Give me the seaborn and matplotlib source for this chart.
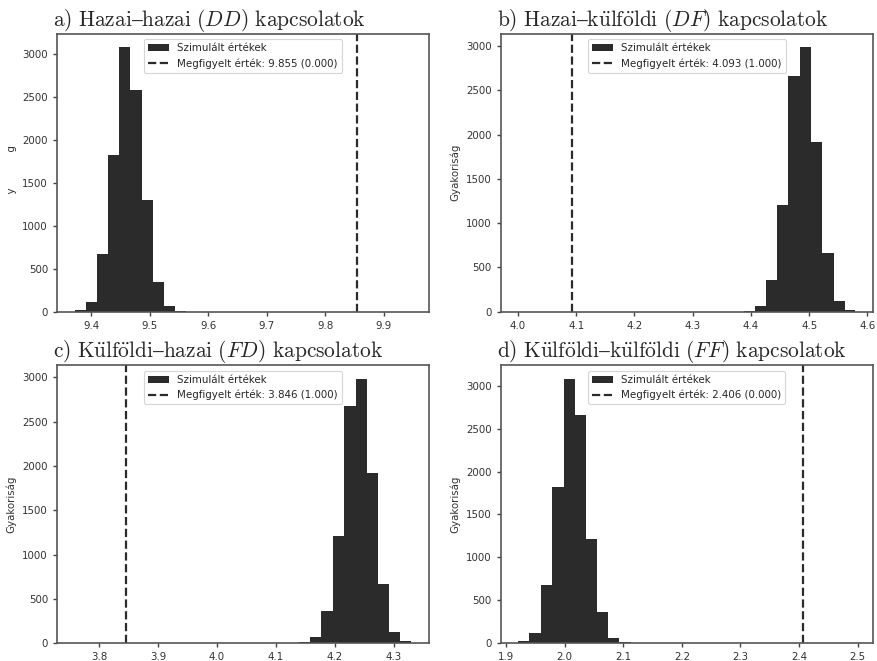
import numpy as np
import pandas as pd
import matplotlib
matplotlib.use("Agg")
import matplotlib.pyplot as plt
import seaborn as sns

# ---------------- data ----------------
titles = [
    r"$\mathrm{a)\ Hazai–hazai\ (}DD\mathrm{)\ kapcsolatok}$",
    r"$\mathrm{b)\ Hazai–k\ddot{u}lf\ddot{o}ldi\ (}DF\mathrm{)\ kapcsolatok}$",
    r"$\mathrm{c)\ K\ddot{u}lf\ddot{o}ldi–hazai\ (}FD\mathrm{)\ kapcsolatok}$",
    r"$\mathrm{d)\ K\ddot{u}lf\ddot{o}ldi–k\ddot{u}lf\ddot{o}ldi\ (}FF\mathrm{)\ kapcsolatok}$",
]
ylabels = ["  y" + " " * 11 + "g", "Gyakoriság", "Gyakoriság", "Gyakoriság"]

edges_dd = [9.3721, 9.3909, 9.4097, 9.4291, 9.4479, 9.4672, 9.4866, 9.5065, 9.5253, 9.5441, 9.5629]
counts_dd = [20, 113, 675, 1825, 3081, 2587, 1295, 347, 66, 8]
obs_dd, p_dd = 9.855, 0.000
xlim_dd = (9.342, 9.977)

edges_df = [4.3874, 4.4063, 4.4257, 4.4446, 4.4640, 4.4834, 4.5029, 4.5223, 4.5417, 4.5606, 4.5794]
counts_df = [8, 68, 358, 1208, 2668, 2989, 1921, 664, 121, 20]
obs_df, p_df = 4.093, 1.000
xlim_df = (3.971, 4.609)

edges_fd = [4.1396, 4.1583, 4.1770, 4.1968, 4.2155, 4.2354, 4.2546, 4.2739, 4.2926, 4.3113, 4.3300]
counts_fd = [8, 68, 362, 1208, 2672, 2985, 1925, 664, 121, 19]
obs_fd, p_fd = 3.846, 1.000
xlim_fd = (3.7286, 4.3595)

edges_ff = [1.9210, 1.9398, 1.9597, 1.9791, 1.9984, 2.0177, 2.0365, 2.0553, 2.0741, 2.0934, 2.1127]
counts_ff = [20, 113, 674, 1823, 3082, 2661, 1212, 359, 55, 8]
obs_ff, p_ff = 2.406, 0.000
xlim_ff = (1.8915, 2.5256)

panels = [
    (edges_dd, counts_dd, obs_dd, p_dd, xlim_dd),
    (edges_df, counts_df, obs_df, p_df, xlim_df),
    (edges_fd, counts_fd, obs_fd, p_fd, xlim_fd),
    (edges_ff, counts_ff, obs_ff, p_ff, xlim_ff),
]

# ---------------- style ----------------
sns.set_style("ticks")
plt.rcParams["font.family"] = ["DejaVu Sans"]
plt.rcParams["mathtext.fontset"] = "cm"
plt.rcParams["axes.edgecolor"] = "#555555"
plt.rcParams["axes.linewidth"] = 1.2
plt.rcParams["xtick.color"] = "#444444"
plt.rcParams["ytick.color"] = "#444444"
plt.rcParams["xtick.labelcolor"] = "#333333"
plt.rcParams["ytick.labelcolor"] = "#333333"
plt.rcParams["xtick.major.size"] = 3
plt.rcParams["ytick.major.size"] = 3

fig, axes = plt.subplots(2, 2, figsize=(8.78, 6.61), dpi=100)
fig.subplots_adjust(left=0.065, right=0.994, top=0.9486, bottom=0.027,
                    wspace=0.194, hspace=0.194)

bar_color = "#2b2b2b"
for ax, title, ylab, (edges, counts, obs, p, xl) in zip(axes.flat, titles, ylabels, panels):
    e = np.asarray(edges)
    mids = (e[:-1] + e[1:]) / 2
    df = pd.DataFrame({"x": mids, "w": counts})
    sns.histplot(data=df, x="x", weights="w", bins=list(edges), ax=ax, color=bar_color,
                 alpha=1.0, linewidth=0, label="Szimulált értékek")
    line = ax.axvline(obs, color="#2b2b2b", linestyle="--", linewidth=1.6,
                      label=f"Megfigyelt érték: {obs:.3f} ({p:.3f})")
    ax.set_xlim(*xl)
    ax.set_xlabel("")
    ax.set_ylabel(ylab, fontsize=7.4, color="#333333")
    ax.tick_params(labelsize=7.4, length=3, width=1)
    ax.set_title(title, fontsize=15.4, loc="left", x=-0.012, pad=5)
    leg = ax.legend(handles=[ax.containers[0], line], loc="upper center",
                    fontsize=7.4, frameon=True,
                    borderpad=0.4, labelspacing=0.5, handlelength=2.0)
    leg.get_frame().set_edgecolor("#cccccc")
    leg.get_frame().set_linewidth(0.8)
    for sp in ax.spines.values():
        sp.set_visible(True)

fig.savefig("out.png", dpi=100)
